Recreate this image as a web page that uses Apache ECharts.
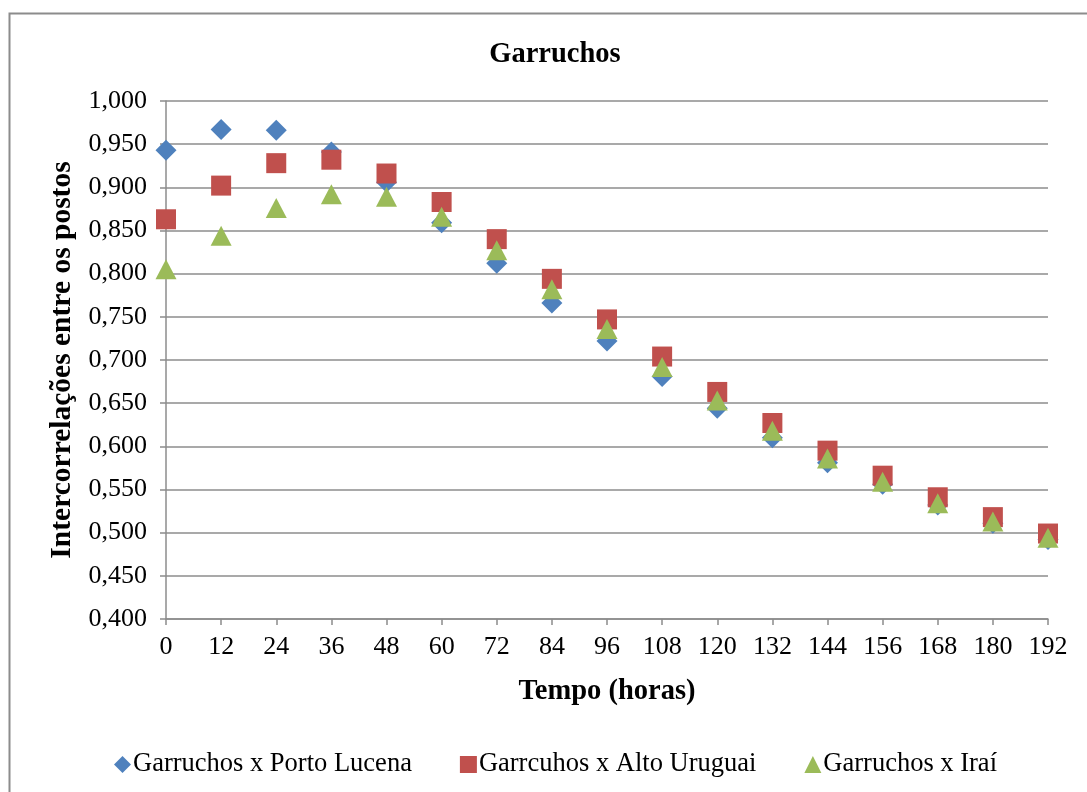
<!DOCTYPE html>
<html>
<head>
<meta charset="utf-8">
<title>Garruchos</title>
<script src="https://cdn.jsdelivr.net/npm/echarts@6/dist/echarts.min.js"></script>
<style>
  html, body { margin: 0; padding: 0; background: #ffffff; }
  #chart { width: 1087px; height: 792px; }
</style>
</head>
<body>
<div id="chart"></div>
<script>
// Lag times (hours)
const hours = [0, 12, 24, 36, 48, 60, 72, 84, 96, 108, 120, 132, 144, 156, 168, 180, 192];

// Cross-correlations between gauging stations
const portoLucena = [0.943, 0.967, 0.966, 0.941, 0.906, 0.859, 0.812, 0.766, 0.722, 0.681, 0.644, 0.610, 0.581, 0.556, 0.532, 0.511, 0.492];
const altoUruguai = [0.863, 0.902, 0.928, 0.932, 0.916, 0.883, 0.840, 0.794, 0.747, 0.704, 0.663, 0.627, 0.595, 0.566, 0.541, 0.518, 0.499];
const irai        = [0.805, 0.844, 0.876, 0.892, 0.889, 0.866, 0.827, 0.782, 0.736, 0.692, 0.653, 0.618, 0.586, 0.559, 0.534, 0.513, 0.494];

const seriesNames = ['Garruchos x Porto Lucena', 'Garrcuhos x Alto Uruguai', 'Garruchos x Iraí'];

const pairs = (ys) => hours.map((h, i) => [h, ys[i]]);

const serif = '"Liberation Serif", "Times New Roman", serif';
const gridColor = '#8c8c8c';

const chart = echarts.init(document.getElementById('chart'));
chart.setOption({
  animation: false,
  backgroundColor: '#ffffff',
  textStyle: { fontFamily: serif, color: '#000' },
  title: {
    text: 'Garruchos',
    left: 550,
    top: 35,
    textAlign: 'center',
    textStyle: { fontFamily: serif, fontSize: 28.5, fontWeight: 'bold', color: '#000' }
  },
  graphic: [{
    type: 'rect',
    shape: { x: 9.5, y: 13.5, width: 1100, height: 800 },
    style: { fill: 'none', stroke: '#8c8c8c', lineWidth: 2 },
    silent: true,
    z: -1
  }],
  legend: {
    left: 109,
    top: 746,
    itemWidth: 17,
    itemHeight: 17,
    itemGap: 48,
    textStyle: { fontFamily: serif, fontSize: 26.5, color: '#000', padding: [0, 0, 0, -3] },
    data: seriesNames
  },
  grid: { left: 166, right: 39, top: 101, bottom: 173 },
  xAxis: {
    type: 'value',
    min: 0,
    max: 192,
    interval: 12,
    name: 'Tempo (horas)',
    nameLocation: 'middle',
    nameGap: 58,
    nameTextStyle: { fontFamily: serif, fontSize: 28.5, fontWeight: 'bold', color: '#000' },
    axisLine: { show: true, lineStyle: { color: gridColor, width: 1.5 } },
    axisTick: { show: true, length: 6, lineStyle: { color: gridColor, width: 1.5 } },
    axisLabel: { fontFamily: serif, fontSize: 26, color: '#000', margin: 15 },
    splitLine: { show: false }
  },
  yAxis: {
    type: 'value',
    min: 0.4,
    max: 1.0,
    interval: 0.05,
    name: 'Intercorrelações entre os postos',
    nameLocation: 'middle',
    nameGap: 88,
    nameRotate: 90,
    nameTextStyle: { fontFamily: serif, fontSize: 29.5, fontWeight: 'bold', color: '#000' },
    axisLine: { show: true, lineStyle: { color: gridColor, width: 1.5 } },
    axisTick: { show: true, length: 6, lineStyle: { color: gridColor, width: 1.5 } },
    axisLabel: {
      fontFamily: serif, fontSize: 26, color: '#000', margin: 19,
      formatter: (v) => v.toFixed(3).replace('.', ',')
    },
    splitLine: { show: true, lineStyle: { color: gridColor, width: 1.5 } }
  },
  series: [
    {
      name: seriesNames[0], type: 'scatter', symbol: 'diamond', symbolSize: [21, 21],
      itemStyle: { color: '#4f81bd', opacity: 1 }, data: pairs(portoLucena), z: 2
    },
    {
      name: seriesNames[1], type: 'scatter', symbol: 'rect', symbolSize: [20, 20],
      itemStyle: { color: '#c0504d', opacity: 1 }, data: pairs(altoUruguai), z: 3
    },
    {
      name: seriesNames[2], type: 'scatter', symbol: 'triangle', symbolSize: [21, 20],
      itemStyle: { color: '#9bbb59', opacity: 1 }, data: pairs(irai), z: 4
    }
  ]
});
</script>
</body>
</html>
